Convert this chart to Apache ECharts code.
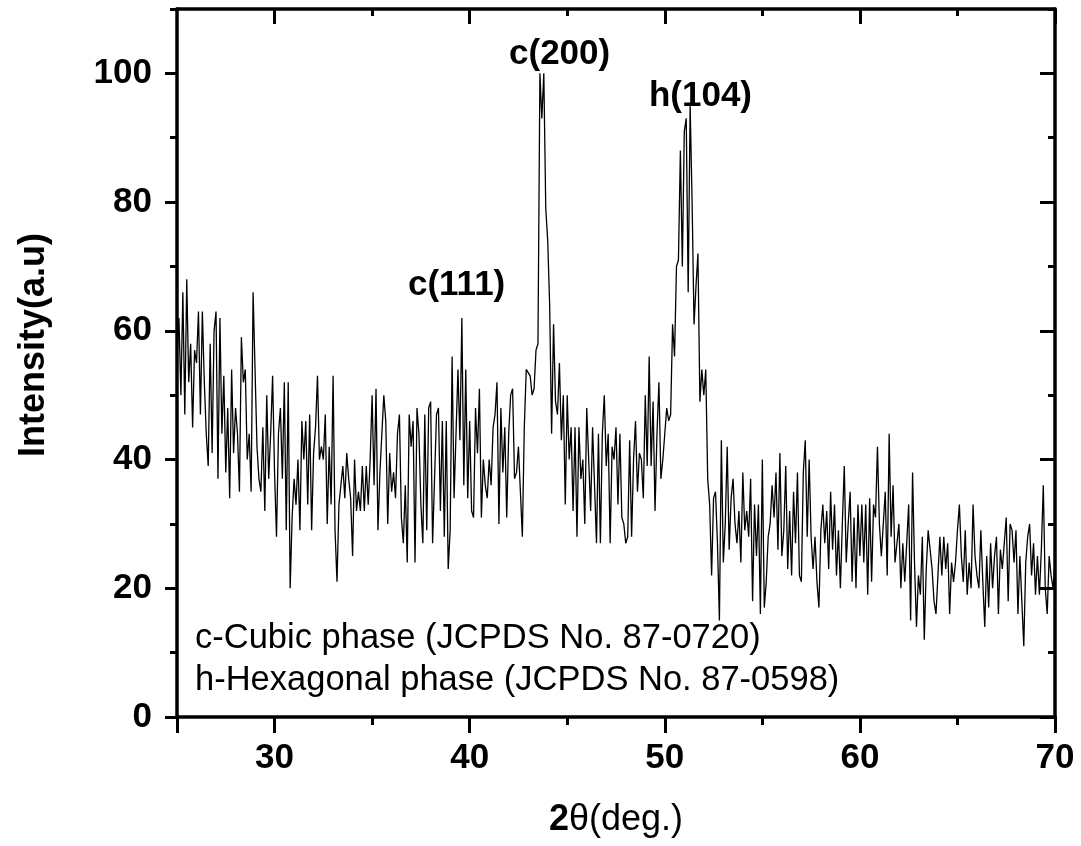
<!DOCTYPE html>
<html><head><meta charset="utf-8">
<script src="https://cdn.jsdelivr.net/npm/echarts@6/dist/echarts.min.js"></script>
<style>html,body{margin:0;padding:0;background:#fff}#c{width:1081px;height:846px}</style>
</head><body><div id="c"></div>
<script>
// Intensity values, 0.1 deg step, grouped by 5-degree segment
const seg25 = [
 56,62,50,66,47,68,52,58,45,57,
 55,63,47,63,52,44,39,58,41,60,
 63,37,62,44,53,38,48,34,54,41,
 48,44,35,59,52,54,40,44,35,66,
 54,42,37,35,45,32,50,37,44,53];
const seg30 = [
 38,28,44,48,37,52,29,52,20,31,
 37,33,40,29,46,40,46,33,47,29,
 41,45,53,40,42,40,47,30,42,33,
 53,29,21,33,36,39,34,41,37,34,
 25,40,32,35,32,39,32,39,33,40];
const seg35 = [
 50,36,51,29,38,44,50,46,30,41,
 35,38,34,44,47,31,27,36,24,47,
 42,46,24,48,44,33,27,47,29,48,
 49,27,37,47,48,32,46,28,46,23,
 29,56,34,44,54,43,62,36,54,34];
const seg40 = [
 46,32,31,48,41,51,31,40,36,34,
 40,36,45,47,52,30,48,38,45,31,
 44,50,51,37,38,42,35,28,45,54,
 54,53,50,51,57,58,100,93,100,79,
 74,64,44,61,49,47,55,43,50,33];
const seg45 = [
 50,40,45,32,45,28,45,37,40,30,
 48,40,32,45,36,27,44,27,44,50,
 39,44,27,42,40,45,33,44,31,30,
 27,28,43,28,40,46,35,41,40,34,
 50,39,56,39,49,32,44,52,37,40];
const seg50 = [
 44,48,46,47,61,56,70,71,88,70,
 91,93,66,95,80,61,67,72,49,54,
 50,54,37,33,22,34,35,27,15,43,
 24,30,42,26,34,37,30,27,32,24,
 38,29,32,28,37,18,33,25,33,16];
const seg55 = [
 40,17,21,28,30,36,31,38,26,41,
 25,29,39,23,32,22,35,27,38,22,
 21,38,43,28,40,28,23,28,21,17,
 29,33,27,32,23,35,26,33,22,29,
 20,30,39,24,30,35,21,31,20,33];
const seg60 = [
 25,33,24,33,19,34,21,33,31,42,
 30,25,30,35,22,44,28,36,24,27,
 30,20,27,21,27,33,15,38,24,14,
 22,19,28,12,23,29,29,23,18,16,
 22,28,22,28,23,27,16,24,21,24];
const seg65 = [
 29,33,25,21,29,19,24,20,33,25,
 22,20,29,21,14,25,17,27,20,25,
 28,16,26,23,27,31,18,30,29,24,
 29,16,25,18,11,24,28,30,22,27,
 19,25,19,26,36,20,16,25,22,20,
 24];
const segmentStarts = [25,30,35,40,45,50,55,60,65];
const segmentValues = [seg25,seg30,seg35,seg40,seg45,seg50,seg55,seg60,seg65];
const stepDeg = 0.1;

const xLabelValues = [30,40,50,60,70];
const xMajorTicks = [25,30,40,50,60,70];
const xMinorTicks = [35,45,55,65];
const yMajorTicks = [0,20,40,60,80,100];
const yMinorTicks = [10,30,50,70,90,110];

const peakNames = ['c(111)','c(200)','h(104)'];
const peakLabelX = [39.33,44.61,51.83];
const peakLabelY = [67.0,103.0,96.5];

const noteLines = ['c-Cubic phase (JCPDS No. 87-0720)','h-Hexagonal phase (JCPDS No. 87-0598)'];

const data = [];
segmentStarts.forEach((s, k) => {
  segmentValues[k].forEach((v, i) => data.push([+(s + i*stepDeg).toFixed(2), v]));
});

const FF = '"Liberation Sans", Arial, Helvetica, sans-serif';
const AX = {color:'#000', width:3.5};

function xAx(pos, ticks, len, inside, mainLine, labels) {
  return {
    type:'value', position:pos, min:25, max:70,
    axisLine:{show:mainLine, onZero:false, lineStyle:AX},
    axisTick:{show:true, customValues:ticks, length:len, inside:inside, lineStyle:{color:'#000', width:3}},
    axisLabel: labels ? {show:true, customValues:xLabelValues, fontSize:35, fontWeight:'bold', color:'#000', fontFamily:FF, margin:24} : {show:false},
    splitLine:{show:false}, minorTick:{show:false}
  };
}
function yAx(pos, ticks, len, inside, mainLine, labels) {
  return {
    type:'value', position:pos, min:0, max:110,
    axisLine:{show:mainLine, onZero:false, lineStyle:AX},
    axisTick:{show:true, customValues:ticks, length:len, inside:inside, lineStyle:{color:'#000', width:3}},
    axisLabel: labels ? {show:true, customValues:yMajorTicks, fontSize:35, fontWeight:'bold', color:'#000', fontFamily:FF, margin:25} : {show:false},
    splitLine:{show:false}
  };
}

const xMain = xAx('bottom', xMajorTicks, 16, false, true, true);
xMain.name = '{b|2}{n|θ(deg.)}';
xMain.nameLocation = 'middle';
xMain.nameGap = 85;
xMain.nameTextStyle = {rich:{b:{fontSize:36, fontWeight:'bold', fontFamily:FF, color:'#000'}, n:{fontSize:36, fontFamily:FF, color:'#000'}}};

const yMain = yAx('left', yMajorTicks, 12, false, true, true);
yMain.name = 'Intensity(a.u)';
yMain.nameLocation = 'middle';
yMain.nameGap = 125;
yMain.nameTextStyle = {fontSize:36, fontWeight:'bold', fontFamily:FF, color:'#000', padding:[0,0,0,36]};

const option = {
  animation:false,
  backgroundColor:'#fff',
  grid:{left:177, right:26, top:9, bottom:129, containLabel:false},
  xAxis:[
    xMain,
    xAx('bottom', xMinorTicks, 8, false, false, false),
    xAx('top', xLabelValues, 15, true, true, false),
    xAx('top', xMinorTicks, 7, true, false, false)
  ],
  yAxis:[
    yMain,
    yAx('left', yMinorTicks, 7, false, false, false),
    yAx('right', yMajorTicks, 15, true, true, false),
    yAx('right', yMinorTicks, 7, true, false, false)
  ],
  series:[{
    type:'line', data:data, xAxisIndex:0, yAxisIndex:0,
    showSymbol:false, symbol:'none', sampling:null, smooth:false,
    lineStyle:{color:'#000', width:1.3},
    markPoint:{
      symbol:'circle', symbolSize:0, silent:true,
      label:{show:true, position:'inside', fontSize:35, fontWeight:'bold', color:'#000', fontFamily:FF, formatter:p=>p.name},
      data: peakNames.map((n,i)=>({name:n, coord:[peakLabelX[i], peakLabelY[i]]}))
    }
  }],
  graphic: noteLines.map((t,i)=>({
    type:'text', x:195, y:[638,680][i], silent:true,
    style:{text:t, fontSize:34.5, fontFamily:FF, fill:'#000', verticalAlign:'middle', align:'left'}
  }))
};
const chart = echarts.init(document.getElementById('c'), null, {renderer:'canvas'});
chart.setOption(option);
</script></body></html>
